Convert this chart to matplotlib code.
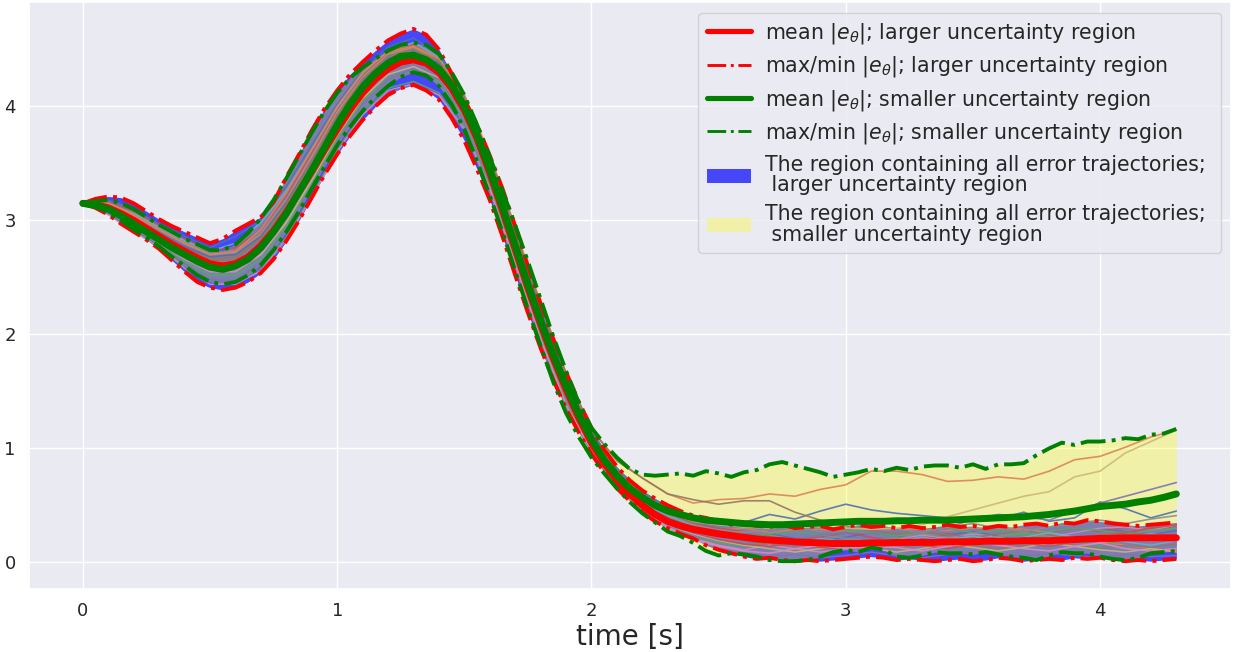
import numpy as np
import matplotlib
matplotlib.use("Agg")
import matplotlib.pyplot as plt
import seaborn as sns

# ---------------- data ----------------
# envelope / mean sample times (0.05 s step)
t_env = np.linspace(0.0, 4.3, 87)
# trajectory sample times (0.1 s step)
t_traj = np.linspace(0.0, 4.3, 44)

mean_large = [3.15, 3.14, 3.11, 3.06, 3.00, 2.93, 2.86, 2.79, 2.73, 2.67, 2.62, 2.60, 2.62, 2.68, 2.78, 2.91,
              3.07, 3.25, 3.43, 3.62, 3.80, 3.97, 4.12, 4.24, 4.33, 4.39, 4.41, 4.38, 4.30, 4.16, 3.97, 3.72,
              3.42, 3.09, 2.75, 2.41, 2.09, 1.79, 1.52, 1.27, 1.05, 0.87, 0.72, 0.60, 0.50, 0.42, 0.36, 0.32,
              0.29, 0.27, 0.25, 0.235, 0.22, 0.205, 0.195, 0.19, 0.18, 0.175, 0.17, 0.165, 0.165, 0.165, 0.17,
              0.17, 0.175, 0.175, 0.175, 0.175, 0.18, 0.18, 0.18, 0.185, 0.185, 0.185, 0.19, 0.19, 0.19, 0.195,
              0.20, 0.205, 0.21, 0.21, 0.215, 0.215, 0.215, 0.215, 0.215]
max_large = [3.15, 3.19, 3.21, 3.20, 3.15, 3.08, 3.01, 2.95, 2.90, 2.85, 2.80, 2.84, 2.91, 2.97, 3.03, 3.16,
             3.38, 3.58, 3.79, 3.98, 4.14, 4.28, 4.39, 4.49, 4.58, 4.64, 4.68, 4.63, 4.50, 4.29, 4.06, 3.84,
             3.57, 3.28, 2.95, 2.60, 2.27, 1.96, 1.67, 1.41, 1.18, 0.99, 0.84, 0.72, 0.63, 0.56, 0.50, 0.45,
             0.41, 0.39, 0.36, 0.33, 0.34, 0.32, 0.31, 0.33, 0.30, 0.31, 0.32, 0.29, 0.31, 0.33, 0.31, 0.32,
             0.30, 0.32, 0.30, 0.31, 0.33, 0.31, 0.32, 0.30, 0.32, 0.31, 0.33, 0.34, 0.32, 0.35, 0.34, 0.37,
             0.36, 0.34, 0.33, 0.32, 0.33, 0.34, 0.35]
min_large = [3.15, 3.11, 3.05, 2.97, 2.90, 2.83, 2.75, 2.65, 2.55, 2.46, 2.41, 2.39, 2.41, 2.46, 2.54, 2.66,
             2.82, 3.00, 3.20, 3.40, 3.58, 3.74, 3.88, 4.00, 4.10, 4.16, 4.19, 4.14, 4.06, 3.90, 3.70, 3.45,
             3.18, 2.86, 2.52, 2.19, 1.88, 1.60, 1.35, 1.14, 0.95, 0.79, 0.65, 0.54, 0.44, 0.36, 0.30, 0.25,
             0.21, 0.15, 0.11, 0.08, 0.05, 0.03, 0.04, 0.02, 0.01, 0.02, 0.01, 0.02, 0.03, 0.04, 0.05, 0.04,
             0.02, 0.03, 0.02, 0.01, 0.02, 0.03, 0.01, 0.02, 0.04, 0.03, 0.01, 0.02, 0.03, 0.02, 0.04, 0.03,
             0.04, 0.02, 0.01, 0.02, 0.01, 0.02, 0.03]

mean_small = [3.15, 3.13, 3.10, 3.04, 2.97, 2.90, 2.83, 2.76, 2.70, 2.64, 2.59, 2.57, 2.60, 2.66, 2.76, 2.90,
              3.06, 3.25, 3.44, 3.64, 3.84, 4.02, 4.17, 4.29, 4.38, 4.44, 4.45, 4.41, 4.33, 4.19, 4.00, 3.75,
              3.45, 3.12, 2.78, 2.44, 2.12, 1.82, 1.55, 1.30, 1.08, 0.90, 0.76, 0.65, 0.57, 0.50, 0.45, 0.42,
              0.39, 0.37, 0.36, 0.35, 0.34, 0.335, 0.33, 0.33, 0.335, 0.34, 0.345, 0.35, 0.355, 0.36, 0.36,
              0.36, 0.365, 0.365, 0.37, 0.37, 0.37, 0.375, 0.38, 0.385, 0.39, 0.395, 0.40, 0.41, 0.42, 0.435,
              0.45, 0.47, 0.49, 0.50, 0.51, 0.53, 0.545, 0.57, 0.60]
max_small = [3.15, 3.17, 3.18, 3.15, 3.10, 3.03, 2.96, 2.90, 2.84, 2.79, 2.74, 2.74, 2.79, 2.89, 3.02, 3.18,
             3.37, 3.57, 3.77, 3.96, 4.12, 4.25, 4.34, 4.42, 4.49, 4.54, 4.56, 4.54, 4.46, 4.30, 4.10, 3.84,
             3.56, 3.26, 2.96, 2.64, 2.31, 1.98, 1.68, 1.40, 1.18, 1.04, 0.92, 0.82, 0.77, 0.76, 0.77, 0.78,
             0.76, 0.80, 0.78, 0.75, 0.79, 0.81, 0.86, 0.88, 0.85, 0.82, 0.79, 0.75, 0.77, 0.79, 0.82, 0.80,
             0.83, 0.81, 0.84, 0.85, 0.85, 0.83, 0.86, 0.82, 0.86, 0.86, 0.87, 0.94, 1.00, 1.05, 1.03, 1.06,
             1.06, 1.07, 1.09, 1.08, 1.12, 1.13, 1.17]
min_small = [3.15, 3.12, 3.07, 3.00, 2.92, 2.85, 2.77, 2.68, 2.60, 2.52, 2.46, 2.44, 2.46, 2.52, 2.61, 2.74,
             2.90, 3.08, 3.28, 3.47, 3.66, 3.82, 3.96, 4.08, 4.18, 4.26, 4.30, 4.27, 4.18, 4.02, 3.80, 3.52,
             3.22, 2.90, 2.56, 2.22, 1.90, 1.58, 1.31, 1.10, 0.92, 0.78, 0.65, 0.53, 0.43, 0.35, 0.27, 0.23,
             0.17, 0.10, 0.06, 0.08, 0.07, 0.05, 0.02, 0.01, 0.01, 0.02, 0.05, 0.09, 0.11, 0.09, 0.13, 0.11,
             0.05, 0.04, 0.06, 0.09, 0.08, 0.08, 0.07, 0.09, 0.07, 0.05, 0.04, 0.02, 0.06, 0.09, 0.08, 0.08,
             0.05, 0.03, 0.02, 0.04, 0.08, 0.09, 0.10]

# individual error trajectories, smaller uncertainty region
small_trajs = [
    [3.15, 3.13, 3.02, 2.89, 2.77, 2.68, 2.70, 2.86, 3.16, 3.52, 3.90, 4.22, 4.42, 4.48, 4.38, 4.06, 3.52, 2.86, 2.20, 1.62, 1.14, 0.82,
     0.62, 0.48, 0.40, 0.36, 0.35, 0.42, 0.38, 0.45, 0.51, 0.46, 0.43, 0.41, 0.39, 0.36, 0.38, 0.44, 0.36, 0.39, 0.53, 0.47, 0.39, 0.45],
    [3.15, 3.15, 3.05, 2.92, 2.80, 2.70, 2.73, 2.92, 3.24, 3.62, 4.00, 4.30, 4.48, 4.53, 4.42, 4.10, 3.58, 2.92, 2.28, 1.65, 1.16, 0.90,
     0.74, 0.60, 0.52, 0.55, 0.56, 0.60, 0.58, 0.64, 0.68, 0.80, 0.80, 0.77, 0.71, 0.72, 0.75, 0.73, 0.80, 0.90, 0.93, 1.01, 1.10, 1.16],
    [3.15, 3.08, 2.93, 2.78, 2.64, 2.52, 2.52, 2.66, 2.95, 3.32, 3.72, 4.05, 4.25, 4.32, 4.22, 3.90, 3.36, 2.70, 2.04, 1.47, 1.00, 0.68,
     0.48, 0.36, 0.28, 0.24, 0.22, 0.25, 0.27, 0.24, 0.28, 0.26, 0.23, 0.27, 0.30, 0.26, 0.28, 0.24, 0.27, 0.30, 0.28, 0.25, 0.28, 0.30],
    [3.15, 3.11, 2.99, 2.86, 2.74, 2.63, 2.63, 2.78, 3.07, 3.45, 3.85, 4.18, 4.40, 4.47, 4.35, 4.02, 3.46, 2.78, 2.12, 1.54, 1.06, 0.72,
     0.50, 0.36, 0.26, 0.20, 0.16, 0.14, 0.17, 0.13, 0.12, 0.14, 0.18, 0.15, 0.12, 0.16, 0.20, 0.17, 0.14, 0.18, 0.22, 0.26, 0.30, 0.33],
    [3.15, 3.08, 2.92, 2.78, 2.62, 2.48, 2.47, 2.63, 2.92, 3.30, 3.68, 4.02, 4.24, 4.33, 4.24, 3.93, 3.40, 2.74, 2.08, 1.50, 1.02, 0.68,
     0.46, 0.33, 0.26, 0.22, 0.25, 0.22, 0.20, 0.24, 0.26, 0.25, 0.28, 0.26, 0.30, 0.38, 0.42, 0.40, 0.37, 0.45, 0.52, 0.58, 0.64, 0.70],
    [3.15, 3.12, 3.00, 2.88, 2.76, 2.65, 2.66, 2.84, 3.14, 3.52, 3.92, 4.24, 4.44, 4.50, 4.40, 4.08, 3.56, 2.90, 2.26, 1.66, 1.17, 0.89,
     0.74, 0.60, 0.55, 0.51, 0.54, 0.54, 0.44, 0.37, 0.32, 0.28, 0.25, 0.27, 0.24, 0.22, 0.25, 0.28, 0.24, 0.21, 0.24, 0.27, 0.23, 0.20],
    [3.15, 3.09, 2.95, 2.80, 2.66, 2.55, 2.55, 2.70, 3.00, 3.38, 3.78, 4.12, 4.34, 4.41, 4.30, 3.97, 3.42, 2.75, 2.08, 1.50, 1.02, 0.68,
     0.45, 0.30, 0.20, 0.14, 0.10, 0.08, 0.12, 0.15, 0.12, 0.14, 0.13, 0.10, 0.14, 0.18, 0.15, 0.12, 0.10, 0.14, 0.17, 0.12, 0.10, 0.12],
    [3.15, 3.12, 2.98, 2.84, 2.72, 2.61, 2.61, 2.76, 3.06, 3.44, 3.84, 4.16, 4.37, 4.44, 4.32, 3.99, 3.44, 2.77, 2.11, 1.54, 1.08, 0.76,
     0.56, 0.42, 0.33, 0.28, 0.26, 0.29, 0.31, 0.27, 0.30, 0.33, 0.29, 0.26, 0.31, 0.34, 0.30, 0.27, 0.31, 0.34, 0.37, 0.34, 0.38, 0.41],
    [3.15, 3.10, 2.96, 2.82, 2.68, 2.57, 2.58, 2.73, 3.03, 3.41, 3.81, 4.14, 4.35, 4.42, 4.31, 3.98, 3.43, 2.76, 2.10, 1.52, 1.05, 0.74,
     0.55, 0.44, 0.36, 0.33, 0.31, 0.30, 0.33, 0.31, 0.30, 0.29, 0.30, 0.33, 0.40, 0.46, 0.52, 0.58, 0.62, 0.75, 0.80, 0.96, 1.06, 1.16],
    [3.15, 3.11, 2.97, 2.83, 2.70, 2.60, 2.62, 2.79, 3.09, 3.47, 3.87, 4.19, 4.40, 4.46, 4.34, 4.01, 3.47, 2.80, 2.14, 1.56, 1.09, 0.75,
     0.53, 0.39, 0.30, 0.25, 0.20, 0.17, 0.20, 0.16, 0.13, 0.16, 0.19, 0.16, 0.20, 0.23, 0.19, 0.22, 0.26, 0.22, 0.19, 0.22, 0.25, 0.22],
]

# individual error trajectories, larger uncertainty region
large_trajs = [
    [3.15, 3.18, 3.10, 2.97, 2.86, 2.76, 2.86, 3.00, 3.30, 3.66, 4.02, 4.32, 4.52, 4.60, 4.46, 4.10, 3.54, 2.86, 2.18, 1.58, 1.10, 0.76,
     0.54, 0.40, 0.31, 0.26, 0.22, 0.25, 0.21, 0.18, 0.22, 0.26, 0.23, 0.20, 0.24, 0.27, 0.23, 0.19, 0.22, 0.26, 0.30, 0.27, 0.24, 0.28],
    [3.15, 3.14, 3.04, 2.92, 2.80, 2.70, 2.72, 2.88, 3.18, 3.56, 3.95, 4.26, 4.46, 4.52, 4.40, 4.07, 3.52, 2.85, 2.18, 1.60, 1.12, 0.78,
     0.55, 0.41, 0.33, 0.28, 0.30, 0.26, 0.29, 0.29, 0.28, 0.25, 0.29, 0.29, 0.28, 0.30, 0.30, 0.29, 0.26, 0.22, 0.18, 0.15, 0.12, 0.10],
    [3.15, 3.07, 2.92, 2.76, 2.60, 2.47, 2.46, 2.58, 2.86, 3.22, 3.62, 3.95, 4.16, 4.22, 4.12, 3.82, 3.30, 2.64, 1.98, 1.40, 0.99, 0.68,
     0.47, 0.33, 0.22, 0.17, 0.14, 0.18, 0.21, 0.17, 0.14, 0.18, 0.21, 0.18, 0.15, 0.19, 0.22, 0.25, 0.21, 0.18, 0.15, 0.19, 0.22, 0.20],
    [3.15, 3.16, 3.08, 2.96, 2.84, 2.74, 2.76, 2.92, 3.22, 3.60, 3.98, 4.28, 4.48, 4.54, 4.42, 4.08, 3.53, 2.86, 2.20, 1.62, 1.14, 0.80,
     0.58, 0.43, 0.34, 0.30, 0.27, 0.23, 0.19, 0.22, 0.26, 0.22, 0.18, 0.21, 0.25, 0.21, 0.18, 0.22, 0.26, 0.30, 0.27, 0.31, 0.28, 0.32],
    [3.15, 3.09, 2.94, 2.78, 2.62, 2.48, 2.45, 2.55, 2.82, 3.21, 3.60, 3.92, 4.12, 4.19, 4.10, 3.78, 3.26, 2.60, 1.94, 1.36, 0.98, 0.68,
     0.46, 0.32, 0.22, 0.14, 0.08, 0.05, 0.07, 0.04, 0.06, 0.09, 0.06, 0.04, 0.07, 0.10, 0.07, 0.05, 0.08, 0.06, 0.04, 0.07, 0.05, 0.06],
    [3.15, 3.13, 3.01, 2.88, 2.76, 2.66, 2.68, 2.84, 3.12, 3.48, 3.86, 4.18, 4.38, 4.44, 4.33, 4.00, 3.46, 2.79, 2.13, 1.55, 1.08, 0.74,
     0.52, 0.38, 0.29, 0.23, 0.19, 0.16, 0.13, 0.16, 0.19, 0.15, 0.12, 0.16, 0.19, 0.15, 0.12, 0.15, 0.18, 0.15, 0.12, 0.15, 0.13, 0.16],
    [3.15, 3.05, 2.90, 2.77, 2.58, 2.44, 2.44, 2.56, 2.84, 3.20, 3.60, 3.93, 4.14, 4.20, 4.10, 3.80, 3.28, 2.62, 1.96, 1.38, 0.98, 0.67,
     0.46, 0.31, 0.21, 0.15, 0.11, 0.15, 0.12, 0.09, 0.12, 0.16, 0.20, 0.24, 0.21, 0.25, 0.22, 0.18, 0.22, 0.26, 0.30, 0.31, 0.28, 0.33],
    [3.15, 3.12, 3.00, 2.87, 2.75, 2.64, 2.64, 2.79, 3.08, 3.45, 3.84, 4.16, 4.36, 4.42, 4.31, 3.98, 3.44, 2.77, 2.11, 1.53, 1.06, 0.73,
     0.51, 0.37, 0.28, 0.24, 0.27, 0.24, 0.20, 0.24, 0.21, 0.18, 0.21, 0.25, 0.22, 0.19, 0.23, 0.26, 0.23, 0.20, 0.24, 0.21, 0.18, 0.21],
    [3.15, 3.10, 2.97, 2.83, 2.70, 2.58, 2.57, 2.70, 2.98, 3.35, 3.74, 4.07, 4.28, 4.35, 4.25, 3.93, 3.40, 2.73, 2.07, 1.49, 1.02, 0.69,
     0.47, 0.33, 0.25, 0.19, 0.15, 0.12, 0.09, 0.12, 0.15, 0.12, 0.09, 0.12, 0.16, 0.13, 0.10, 0.13, 0.17, 0.14, 0.11, 0.09, 0.12, 0.09],
    [3.15, 3.15, 3.06, 2.94, 2.82, 2.73, 2.80, 2.98, 3.26, 3.62, 3.99, 4.29, 4.49, 4.56, 4.43, 4.08, 3.52, 2.84, 2.17, 1.58, 1.10, 0.77,
     0.55, 0.41, 0.32, 0.27, 0.24, 0.20, 0.17, 0.21, 0.18, 0.15, 0.18, 0.22, 0.19, 0.16, 0.20, 0.17, 0.14, 0.18, 0.21, 0.18, 0.15, 0.19],
]

legend_labels = [
    r"mean $|e_{\theta}|$; larger uncertainty region",
    r"max/min $|e_{\theta}|$; larger uncertainty region",
    r"mean $|e_{\theta}|$; smaller uncertainty region",
    r"max/min $|e_{\theta}|$; smaller uncertainty region",
    "The region containing all error trajectories; \n larger uncertainty region",
    "The region containing all error trajectories; \n smaller uncertainty region",
]
x_label = "time [s]"

# ---------------- plot ----------------
sns.set_theme(style="darkgrid")
plt.rcParams["font.family"] = ["DejaVu Sans"]

fig = plt.figure(figsize=(12.33, 6.52), dpi=100)
ax = fig.add_axes([29 / 1233, 1 - 589 / 652, 1202 / 1233, 586.7 / 652])

palette = sns.color_palette("deep", 10)

fb_large = ax.fill_between(t_env, min_large, max_large, color="blue", alpha=0.7, linewidth=0,
                           label=legend_labels[4])
fb_small = ax.fill_between(t_env, min_small, max_small, color="yellow", alpha=0.3, linewidth=0,
                           label=legend_labels[5])

for i, tr in enumerate(large_trajs):
    ax.plot(t_traj, tr, color=palette[i % 10], lw=1.1, alpha=0.85)
for i, tr in enumerate(small_trajs):
    ax.plot(t_traj, tr, color=palette[i % 10], lw=1.2, alpha=0.9)

l1, = ax.plot(t_env, mean_large, color="red", lw=5, label=legend_labels[0])
l2, = ax.plot(t_env, max_large, color="red", lw=2.8, ls="-.", label=legend_labels[1])
ax.plot(t_env, min_large, color="red", lw=2.8, ls="-.")
l3, = ax.plot(t_env, mean_small, color="green", lw=5, label=legend_labels[2])
l4, = ax.plot(t_env, max_small, color="green", lw=2.8, ls="-.", label=legend_labels[3])
ax.plot(t_env, min_small, color="green", lw=2.8, ls="-.")

ax.set_xlim(-0.212, 4.515)
ax.set_ylim(-0.234, 4.914)
ax.set_xticks([0, 1, 2, 3, 4])
ax.set_yticks([0, 1, 2, 3, 4])
ax.tick_params(labelsize=13)
ax.set_xlabel(x_label, fontsize=20, labelpad=2)

leg = ax.legend(handles=[l1, l2, l3, l4, fb_large, fb_small], loc="upper right", fontsize=14.8,
                labelspacing=0.41, handlelength=2.15, handletextpad=0.7, borderaxespad=0.5)
for txt in leg.get_texts():
    txt.set_linespacing(1.05)
for h in leg.legend_handles[0:4:2]:
    h.set_linewidth(3.7)
for h in leg.legend_handles[1:4:2]:
    h.set_linewidth(2.1)

fig.savefig("out.png", dpi=100)
